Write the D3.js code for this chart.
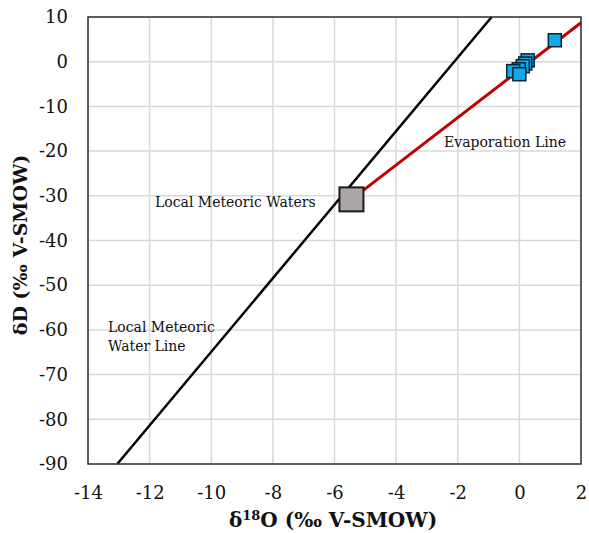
<!DOCTYPE html>
<html>
<head>
<meta charset="utf-8">
<script src="https://cdn.jsdelivr.net/npm/d3@7"></script>
<style>
  html, body { margin: 0; padding: 0; background: #fff; }
  svg { display: block; }
  text { font-family: "DejaVu Serif", "Liberation Serif", serif; fill: #111; }
</style>
</head>
<body>
<svg id="chart" width="589" height="533"></svg>
<script>
// Axis ticks
const xTicks = [-14, -12, -10, -8, -6, -4, -2, 0, 2];
const yTicks = [-90, -80, -70, -60, -50, -40, -30, -20, -10, 0, 10];

// Local meteoric water line endpoints (δ18O, δD)
const lmwlO = [-13.05, -0.9];
const lmwlD = [-90, 10];

// Evaporation line endpoints (δ18O, δD)
const evapO = [-5.45, 2.0];
const evapD = [-30.8, 8.7];

// Local meteoric waters (mean)
const meteoricO = [-5.45];
const meteoricD = [-30.8];

// Evaporated samples
const sampleO = [0.27, 0.19, 0.11, -0.02, -0.2, 0.0, 1.15];
const sampleD = [0.3, -0.4, -1.0, -1.7, -2.1, -2.8, 4.8];

const svg = d3.select("#chart");
const plotL = 88, plotR = 581, plotT = 17, plotB = 464;

const x = d3.scaleLinear().domain([-14, 2]).range([plotL, plotR]);
const y = d3.scaleLinear().domain([-90, 10]).range([plotB, plotT]);

// Plain hyphen-minus for negative tick labels
const fmt = d => String(d);

// Gridlines
svg.append("g").selectAll("line").data(xTicks).join("line")
  .attr("x1", d => x(d)).attr("x2", d => x(d))
  .attr("y1", plotT).attr("y2", plotB)
  .attr("stroke", "#d9d9d9").attr("stroke-width", 1.5);
svg.append("g").selectAll("line").data(yTicks).join("line")
  .attr("x1", plotL).attr("x2", plotR)
  .attr("y1", d => y(d)).attr("y2", d => y(d))
  .attr("stroke", "#d9d9d9").attr("stroke-width", 1.5);

// Axes (labels only, frame drawn separately)
const xAxis = svg.append("g").attr("transform", `translate(0,${plotB})`)
  .call(d3.axisBottom(x).tickValues(xTicks).tickSize(0).tickPadding(22).tickFormat(fmt));
xAxis.select(".domain").remove();
xAxis.selectAll("text").style("font-size", "18px").style("font-family", "DejaVu Serif").attr("fill", "#111");

const yAxis = svg.append("g").attr("transform", `translate(${plotL},0)`)
  .call(d3.axisLeft(y).tickValues(yTicks).tickSize(0).tickPadding(20).tickFormat(fmt));
yAxis.select(".domain").remove();
yAxis.selectAll("text").style("font-size", "18px").style("font-family", "DejaVu Serif").attr("fill", "#111");

const line = d3.line().x(d => x(d[0])).y(d => y(d[1]));

// Local meteoric water line
svg.append("path")
  .datum(d3.zip(lmwlO, lmwlD))
  .attr("d", line)
  .attr("fill", "none").attr("stroke", "#000").attr("stroke-width", 2.5);

// Evaporation line
svg.append("path")
  .datum(d3.zip(evapO, evapD))
  .attr("d", line)
  .attr("fill", "none").attr("stroke", "#c00000").attr("stroke-width", 3);

// Local meteoric waters marker
const bigSize = 24;
svg.append("g").selectAll("rect").data(d3.zip(meteoricO, meteoricD)).join("rect")
  .attr("x", d => x(d[0]) - bigSize / 2).attr("y", d => y(d[1]) - bigSize / 2)
  .attr("width", bigSize).attr("height", bigSize)
  .attr("fill", "#aaa6a6").attr("stroke", "#1a1a1a").attr("stroke-width", 2);

// Sample markers
const smallSize = 13;
svg.append("g").selectAll("rect").data(d3.zip(sampleO, sampleD)).join("rect")
  .attr("x", d => x(d[0]) - smallSize / 2).attr("y", d => y(d[1]) - smallSize / 2)
  .attr("width", smallSize).attr("height", smallSize)
  .attr("fill", "#0fa8e8").attr("stroke", "#0d2233").attr("stroke-width", 1.5);

// Plot frame
svg.append("rect")
  .attr("x", plotL).attr("y", plotT).attr("width", plotR - plotL).attr("height", plotB - plotT)
  .attr("fill", "none").attr("stroke", "#333").attr("stroke-width", 1.5);

// Annotations
const ann = svg.append("g").style("font-size", "14px");
ann.append("text").attr("x", 155).attr("y", 207).text("Local Meteoric Waters");
ann.append("text").attr("x", 444).attr("y", 147).text("Evaporation Line");
ann.append("text").attr("x", 108).attr("y", 332).text("Local Meteoric");
ann.append("text").attr("x", 108).attr("y", 351).text("Water Line");

// Axis titles
const xt = svg.append("text").attr("x", 333).attr("y", 527)
  .attr("text-anchor", "middle").style("font-size", "20px").style("font-weight", "bold");
xt.append("tspan").text("δ");
xt.append("tspan").attr("dy", -7).style("font-size", "13px").text("18");
xt.append("tspan").attr("dy", 7).text("O (‰ V-SMOW)");

svg.append("text")
  .attr("transform", "translate(27,245) rotate(-90)")
  .attr("text-anchor", "middle").style("font-size", "19px").style("font-weight", "bold")
  .text("δD (‰ V-SMOW)");
</script>
</body>
</html>
